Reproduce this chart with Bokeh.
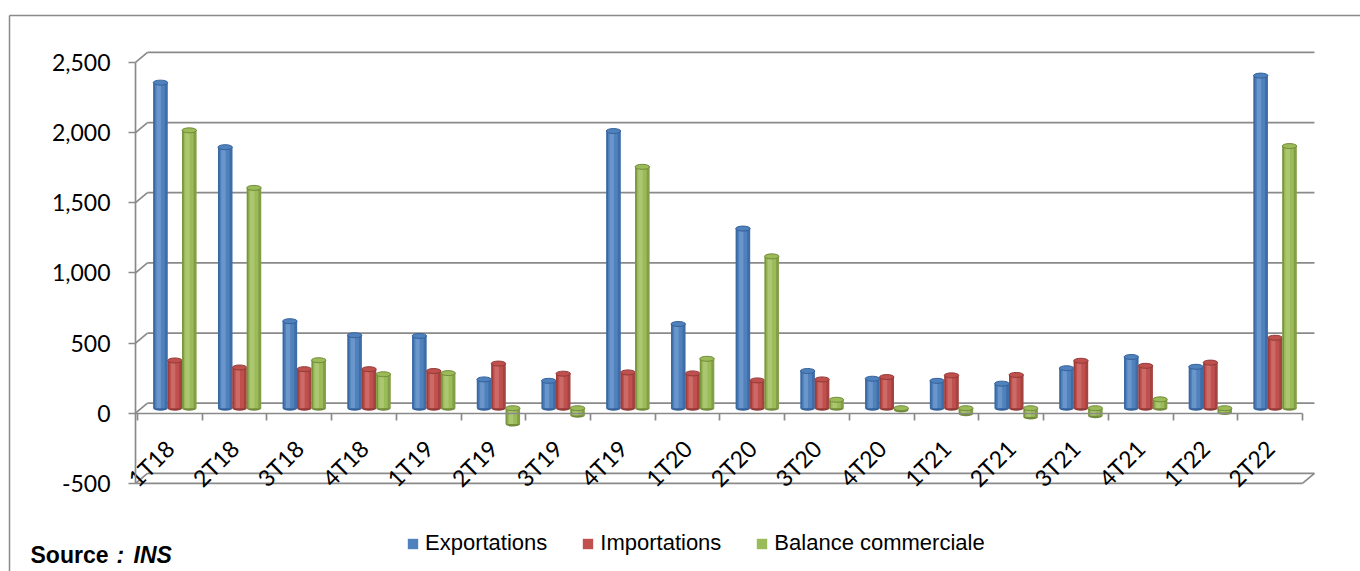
import math
import numpy as np
from bokeh.plotting import figure
from bokeh.models import Range1d, FixedTicker, NumeralTickFormatter, Legend, LegendItem, Label
from bokeh.embed import file_html
from bokeh.resources import INLINE

# ---------------- data ----------------
quarters = ["1T18", "2T18", "3T18", "4T18", "1T19", "2T19", "3T19", "4T19", "1T20",
            "2T20", "3T20", "4T20", "1T21", "2T21", "3T21", "4T21", "1T22", "2T22"]
exportations = [2320, 1860, 620, 520, 515, 205, 195, 1975, 600, 1280, 265, 210, 195, 175, 285, 365, 295, 2370]
importations = [340, 290, 278, 278, 265, 318, 246, 255, 248, 198, 205, 222, 234, 237, 338, 302, 325, 502]
balance = [1980, 1570, 342, 242, 250, -113, -51, 1720, 352, 1082, 60, -12, -39, -62, -53, 63, -30, 1868]
y_ticks = [-500, 0, 500, 1000, 1500, 2000, 2500]
series_names = ["Exportations", "Importations", "Balance commerciale"]

# ---------------- layout (page pixels) ----------------
PAGE = 0                # the page template has no body margin
W, H = 1360, 571
CAT_PX = 64.72          # pixels per category
X_FIRST = 137           # page x of first category boundary
Y_ZERO = 412.7          # page y of value 0 (front)
PX_PER_VAL = 0.140333   # pixels per unit of value


def X(px):
    return 0.5 + (px - X_FIRST) / CAT_PX


def Y(py):
    return (Y_ZERO - py) / PX_PER_VAL


def dX(px):
    return px / CAT_PX


def dY(py):
    return py / PX_PER_VAL


GRID = "#8a8a8a"
BLACK = "#000000"

p = figure(width=W, height=H,
           x_range=Range1d(X(PAGE), X(PAGE + W)),
           y_range=Range1d(Y(PAGE + H), Y(PAGE)),
           output_backend="svg", toolbar_location=None, min_border=0)
p.title.visible = False
p.outline_line_color = None
p.grid.visible = False
p.background_fill_color = "white"
p.border_fill_color = "white"

# outer chart border (top & left visible)
p.line([X(9), X(9)], [Y(PAGE + H), Y(15)], line_color=GRID, line_width=1.5)
p.line([X(9), X(PAGE + W)], [Y(15), Y(15)], line_color=GRID, line_width=1.5)

# 3D walls: back gridlines + side-wall diagonals
DEPTH_X, DEPTH_Y = 12, 10
tv = np.array(y_ticks, dtype=float)
p.segment(x0=[X(135)] * len(tv), y0=tv, x1=[X(135 + DEPTH_X)] * len(tv), y1=tv + dY(DEPTH_Y),
          line_color=GRID, line_width=1.7)
p.segment(x0=[X(135 + DEPTH_X)] * len(tv), y0=tv + dY(DEPTH_Y),
          x1=[18.5 + dX(DEPTH_X)] * len(tv), y1=tv + dY(DEPTH_Y),
          line_color=GRID, line_width=1.7)
# floor front edge and right edge at the minimum value
vmin = y_ticks[0]
p.segment(x0=[X(135)], y0=[vmin], x1=[18.5], y1=[vmin], line_color=GRID, line_width=1.7)
p.segment(x0=[18.5], y0=[vmin], x1=[18.5 + dX(DEPTH_X)], y1=[vmin + dY(DEPTH_Y)],
          line_color=GRID, line_width=1.7)

# ---------------- bars (cylinders) ----------------
palette = [
    ("#4F81BD", "#34619A", "#8DB0DC"),
    ("#C0504D", "#923A38", "#DA8A88"),
    ("#9BBB59", "#718B3A", "#C0D88F"),
]
w = dX(14.4)
dxm = dX(5)
dym = dY(5)
cap_h = dY(5)
centers = np.arange(1, len(quarters) + 1, dtype=float)
legend_items = []
for k, (vals, name) in enumerate(zip([exportations, importations, balance], series_names)):
    base, dark, light = palette[k]
    v = np.array(vals, dtype=float)
    xc = centers + (k - 1) * w + dxm
    top = np.maximum(v, 0) + dym
    bot = np.minimum(v, 0) + dym
    p.ellipse(x=xc, y=bot, width=w, height=cap_h, fill_color=dark, line_color=None)
    r = p.vbar(x=xc, top=top, bottom=bot, width=w, fill_color=base, line_color=None)
    # shading bands
    p.vbar(x=xc - 0.44 * w, top=top, bottom=bot, width=0.12 * w, fill_color=dark, line_color=None, fill_alpha=0.8)
    p.vbar(x=xc - 0.12 * w, top=top, bottom=bot, width=0.3 * w, fill_color=light, line_color=None, fill_alpha=0.45)
    p.vbar(x=xc + 0.4 * w, top=top, bottom=bot, width=0.2 * w, fill_color=dark, line_color=None, fill_alpha=0.6)
    p.ellipse(x=xc, y=top, width=w, height=cap_h, fill_color=base, line_color=dark, line_width=1)
    legend_items.append(LegendItem(label=name, renderers=[r]))

# ---------------- axes ----------------
ya = p.yaxis[0]
ya.fixed_location = X(135)
ya.bounds = (y_ticks[0], y_ticks[-1])
ya.ticker = FixedTicker(ticks=y_ticks)
ya.formatter = NumeralTickFormatter(format="0,0")
ya.major_tick_out = 7
ya.major_tick_in = 0
ya.minor_tick_out = 0
ya.minor_tick_in = 0
ya.axis_line_color = GRID
ya.axis_line_width = 1.7
ya.major_tick_line_color = GRID
ya.major_tick_line_width = 1.7
ya.major_label_text_font = "Lato"
ya.major_label_text_font_size = "23px"
ya.major_label_text_color = BLACK
ya.major_label_standoff = 18

xa = p.xaxis[0]
xa.fixed_location = 0
xa.bounds = (X(135), 18.5)
xa.ticker = FixedTicker(ticks=list(centers), minor_ticks=[c - 0.5 for c in centers] + [centers[-1] + 0.5])
xa.major_label_overrides = {int(c): q for c, q in zip(centers, quarters)}
xa.major_tick_out = 0
xa.major_tick_in = 0
xa.minor_tick_out = 7
xa.minor_tick_in = 0
xa.axis_line_color = GRID
xa.axis_line_width = 1.7
xa.minor_tick_line_color = GRID
xa.minor_tick_line_width = 1.7
xa.major_label_orientation = math.pi / 4
xa.major_label_text_font = "Lato"
xa.major_label_text_font_size = "23px"
xa.major_label_text_color = BLACK
xa.major_label_standoff = 24

# ---------------- legend ----------------
legend = Legend(items=legend_items, location=(406, 15), orientation="horizontal",
                padding=0, margin=0, spacing=34, label_standoff=6,
                glyph_width=13, glyph_height=13, border_line_color=None,
                background_fill_alpha=0, label_text_font="Liberation Sans",
                label_text_font_size="22px", label_text_color=BLACK)
p.add_layout(legend)

# ---------------- source note ----------------
p.add_layout(Label(x=X(30), y=Y(567), text="Source", text_font="Liberation Sans",
                   text_font_style="bold", text_font_size="23px", text_color=BLACK))
p.add_layout(Label(x=X(116), y=Y(567), text=":", text_font="Liberation Sans",
                   text_font_style="bold italic", text_font_size="23px", text_color=BLACK))
p.add_layout(Label(x=X(133), y=Y(567), text="INS", text_font="Liberation Sans",
                   text_font_style="bold italic", text_font_size="23px", text_color=BLACK))

open("out.html", "w").write(file_html(p, INLINE))
